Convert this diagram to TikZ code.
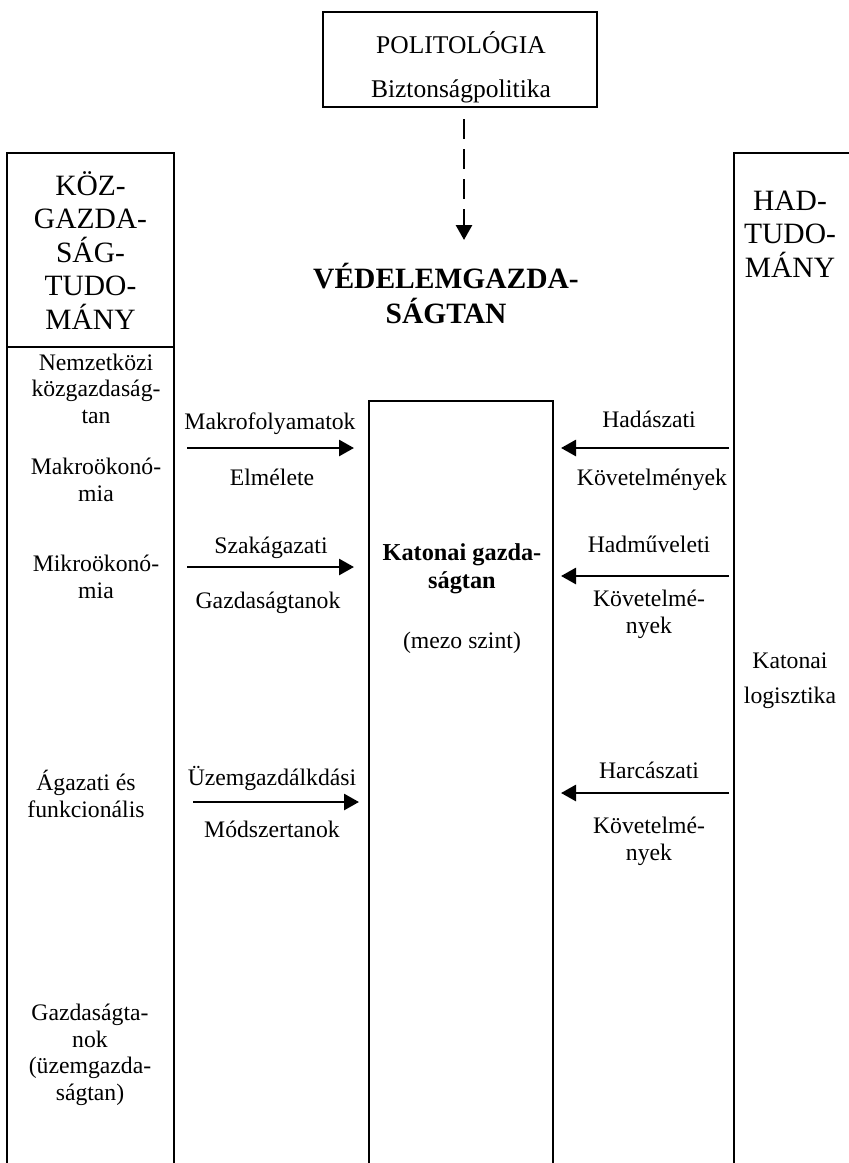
\documentclass[tikz,border=0pt]{standalone}
\usepackage{fontspec}
\setmainfont{Liberation Serif}
\usetikzlibrary{arrows.meta}
\begin{document}
\begin{tikzpicture}[x=1pt,y=-1pt,
  frame/.style={draw,line width=2pt,inner sep=0pt},
  txt/.style={inner sep=0pt,anchor=base,align=center,font=\fontsize{23.7}{26.5}\selectfont},
  head/.style={txt,font=\fontsize{29.5}{33.5}\selectfont},
  flow/.style={line width=2.8pt,-{Triangle[length=15pt,width=16pt]}},
  hint/.style={flow,dash pattern=on 20pt off 10pt}]
\useasboundingbox (0,0) rectangle (849,1163);
\clip (0,0) rectangle (849,1163);

% frames (the three columns run past the lower edge)
\node[frame,minimum width=274pt,minimum height=95pt] (pol) at (460,59.5) {};
\node[frame,minimum width=167pt,minimum height=1047pt] (kozg) at (90.5,676.5) {};
\node[frame,minimum width=184pt,minimum height=799pt] (mid) at (461,800.5) {};
\node[frame,minimum width=156pt,minimum height=1047pt] (had) at (812,676.5) {};
\coordinate (div) at (0,347);
\draw[line width=2pt] (kozg.west |- div) -- (kozg.east |- div);

% texts (base anchor = baseline of the last line)
\node[txt,font=\fontsize{25.5}{44}\selectfont] (poltx) at (461,97) {POLITOLÓGIA\\Biztonságpolitika};
\node[head] (kozgtx) at (90.5,329) {KÖZ-\\GAZDA-\\SÁG-\\TUDO-\\MÁNY};
\node[head] (hadtx) at (790,277) {HAD-\\TUDO-\\MÁNY};
\node[head,font=\fontsize{29.5}{35}\bfseries] (vg) at (446,323) {VÉDELEMGAZDA-\\SÁGTAN};

\node[txt] (l1) at (96,423) {Nemzetközi\\közgazdaság-\\tan};
\node[txt] (l2) at (96,501) {Makroökonó-\\mia};
\node[txt] (l3) at (96,598) {Mikroökonó-\\mia};
\node[txt] (l4) at (86,817) {Ágazati és\\funkcionális};
\node[txt] (l5) at (90,1100) {Gazdaságta-\\nok\\(üzemgazda-\\ságtan)};

\node[txt] (a1) at (270,429) {Makrofolyamatok};
\node[txt] (a1b) at (272,485) {Elmélete};
\node[txt] (a2) at (271,553) {Szakágazati};
\node[txt] (a2b) at (268,608) {Gazdaságtanok};
\node[txt] (a3) at (272,785) {Üzemgazdálkdási};
\node[txt] (a3b) at (272,837) {Módszertanok};

\node[txt,font=\fontsize{24.3}{28}\bfseries] (k1) at (462,588) {Katonai gazda-\\ságtan};
\node[txt] (k2) at (462,648) {(mezo szint)};

\node[txt] (r1) at (649,427) {Hadászati};
\node[txt] (r1b) at (652,485) {Követelmények};
\node[txt] (r2) at (649,552) {Hadműveleti};
\node[txt] (r2b) at (649,633) {Követelmé-\\nyek};
\node[txt] (r3) at (649,778) {Harcászati};
\node[txt] (r3b) at (649,860) {Követelmé-\\nyek};

\node[txt,font=\fontsize{23.7}{35}\selectfont] (lg) at (790,703) {Katonai\\logisztika};

% connectors
\coordinate (vt) at (464,240);
\draw[hint,shorten <=11pt] (pol.south -| vt) -- (vt);

\coordinate (y1) at (0,448);
\coordinate (y2) at (0,567);
\coordinate (y3) at (0,802);
\coordinate (z1) at (0,448);
\coordinate (z2) at (0,576);
\coordinate (z3) at (0,793);
\draw[flow,shorten <=12pt,shorten >=14pt] (kozg.east |- y1) -- (mid.west |- y1);
\draw[flow,shorten <=12pt,shorten >=14pt] (kozg.east |- y2) -- (mid.west |- y2);
\draw[flow,shorten <=18pt,shorten >=9pt] (kozg.east |- y3) -- (mid.west |- y3);
\draw[flow,shorten <=4pt,shorten >=7pt] (had.west |- z1) -- (mid.east |- z1);
\draw[flow,shorten <=4pt,shorten >=7pt] (had.west |- z2) -- (mid.east |- z2);
\draw[flow,shorten <=4pt,shorten >=7pt] (had.west |- z3) -- (mid.east |- z3);
\end{tikzpicture}
\end{document}
